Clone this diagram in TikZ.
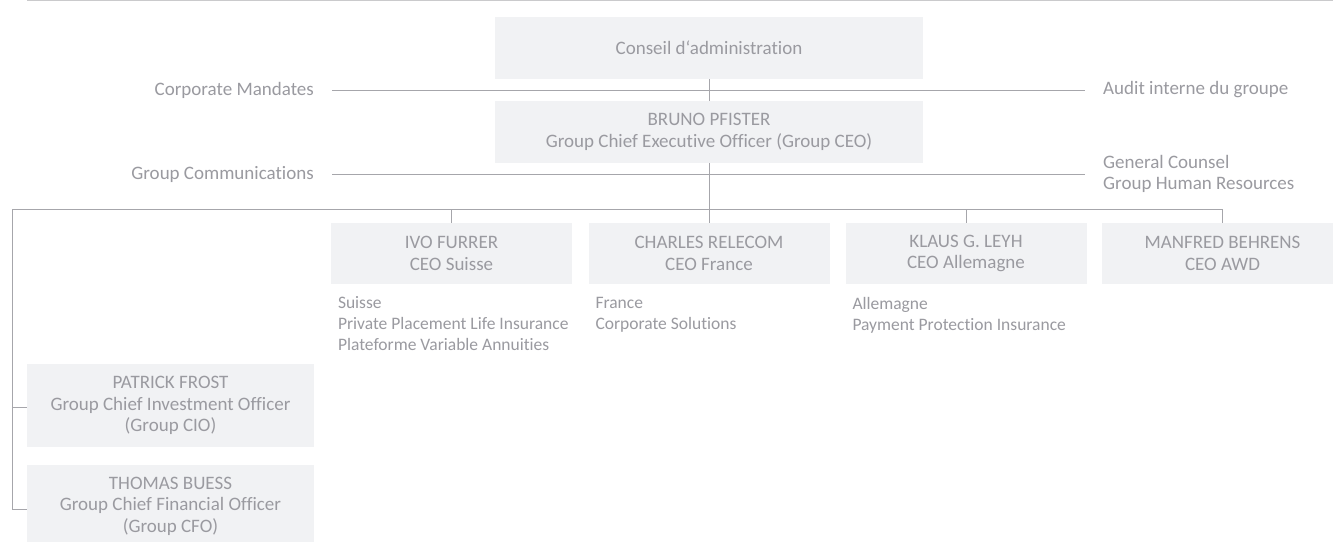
\documentclass[tikz,border=0pt]{standalone}
\usepackage{fontspec}
\setmainfont{Carlito}[Ligatures=NoCommon]
\definecolor{txt}{HTML}{9A9AA0}
\definecolor{ln}{HTML}{A6A6AB}
\definecolor{boxfill}{HTML}{F1F2F4}
\definecolor{topln}{HTML}{CACACC}
\tikzset{
  orgbox/.style={fill=boxfill, draw=none, text=txt, align=center, inner sep=0pt,
    font=\fontsize{19}{21.5}\selectfont},
  widebox/.style={orgbox, minimum width=428pt, minimum height=62pt},
  ceobox/.style={orgbox, minimum width=241pt, minimum height=61pt},
  sidebox/.style={orgbox, minimum width=287pt, minimum height=83pt},
  sidelabel/.style={text=txt, inner ysep=0pt, inner xsep=18pt, font=\fontsize{19}{21}\selectfont},
  sublist/.style={text=txt, align=left, anchor=north west, inner xsep=7pt, inner ysep=12.5pt,
    font=\fontsize{17.5}{21}\selectfont},
  conn/.style={draw=ln, line width=1pt},
}
\begin{document}
\begin{tikzpicture}[x=1pt,y=-1pt]
\useasboundingbox (0,0) rectangle (1333,541);
\fill[white] (0,0) rectangle (1333,541);
\draw[topln, line width=1.3pt] (27,0.6) -- (1333,0.6);

\node[widebox] (conseil) at (709,48) {Conseil d‘administration};
\node[widebox] (bruno) at (709,132) {BRUNO PFISTER\\Group Chief Executive Officer (Group CEO)};

\node[ceobox] (ivo) at (451.5,253.5) {IVO FURRER\\CEO Suisse};
\node[ceobox] (charles) at (709,253.5) {CHARLES RELECOM\\CEO France};
\node[ceobox] (klaus) at (966,253.5) {KLAUS G. LEYH\\CEO Allemagne};
\node[ceobox] (manfred) at (1222.5,253.5) {MANFRED BEHRENS\\CEO AWD};

\node[sidebox] (patrick) at (170.5,405.5) {PATRICK FROST\\Group Chief Investment Officer\\(Group CIO)};
\node[sidebox] (thomas) at (170.5,506) {THOMAS BUESS\\Group Chief Financial Officer\\(Group CFO)};

\node[sidelabel, anchor=east] (cm) at (332,90) {Corporate Mandates};
\node[sidelabel, anchor=west] (audit) at (1085,90) {Audit interne du groupe};
\node[sidelabel, anchor=east] (gcom) at (332,174) {Group Communications};
\node[sidelabel, anchor=west, align=left] (gcr) at (1085,174) {General Counsel\\Group Human Resources};

\node[sublist] (ivosub) at (ivo.south west) {Suisse\\Private Placement Life Insurance\\Plateforme Variable Annuities};
\node[sublist] (charlessub) at (charles.south west) {France\\Corporate Solutions};
\node[sublist] (klaussub) at (klaus.south west) {Allemagne\\Payment Protection Insurance};

\coordinate (busL) at (12,209);

\draw[conn] (cm.east) -- (audit.west);
\draw[conn] (gcom.east) -- (gcr.west);
\draw[conn] (conseil.south) -- (bruno.north);
\draw[conn] (bruno.south) -- (charles.north);
\draw[conn] ([yshift=-3pt]thomas.west) -| (busL) -| (manfred.north);
\draw[conn] (ivo.north) -- (ivo.north |- busL);
\draw[conn] (klaus.north) -- (klaus.north |- busL);
\draw[conn] ([yshift=-2pt]patrick.west) -- ([yshift=-2pt]patrick.west -| busL);
\end{tikzpicture}
\end{document}
